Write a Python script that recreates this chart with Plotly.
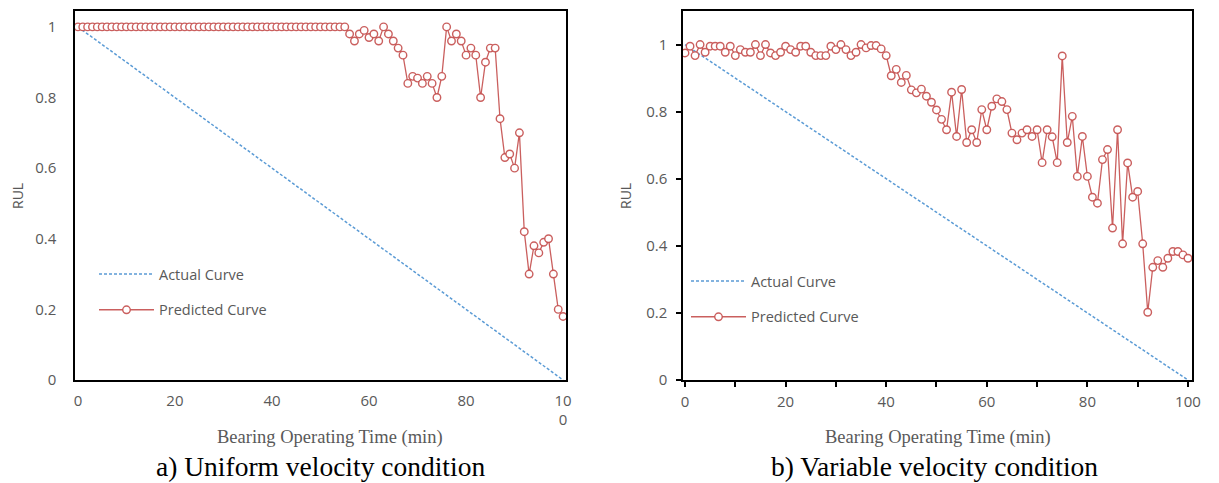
import plotly.graph_objects as go

# ---------------- data ----------------
time_min = list(range(0, 101))
actual_rul = [1 - t / 100 for t in time_min]

uniform_pred = [1.0] * 56 + [
    0.98, 0.96, 0.98, 0.99, 0.97, 0.98, 0.96, 1.0, 0.98, 0.96,
    0.94, 0.92, 0.84, 0.86, 0.855, 0.84, 0.86, 0.84, 0.80, 0.86,
    1.0, 0.96, 0.98, 0.96, 0.92, 0.94, 0.92, 0.80, 0.90, 0.94,
    0.94, 0.74, 0.63, 0.64, 0.60, 0.70, 0.42, 0.30, 0.38, 0.36,
    0.39, 0.40, 0.30, 0.20, 0.18,
]

variable_pred = [
    0.975, 0.995, 0.967, 1.0, 0.977, 0.995, 0.995, 0.995, 0.977, 0.995,
    0.967, 0.985, 0.977, 0.977, 1.0, 0.967, 1.0, 0.975, 0.967, 0.977,
    0.995, 0.985, 0.977, 0.995, 0.995, 0.977, 0.967, 0.967, 0.967, 0.995,
    0.985, 1.0, 0.985, 0.967, 0.977, 1.0, 0.99, 0.997, 0.997, 0.987,
    0.967, 0.907, 0.926, 0.887, 0.908, 0.865, 0.856, 0.867, 0.846, 0.828,
    0.805, 0.777, 0.746, 0.858, 0.726, 0.866, 0.708, 0.746, 0.708, 0.806,
    0.746, 0.816, 0.838, 0.830, 0.806, 0.736, 0.716, 0.736, 0.746, 0.726,
    0.746, 0.648, 0.746, 0.725, 0.648, 0.966, 0.708, 0.786, 0.607, 0.726,
    0.607, 0.545, 0.527, 0.657, 0.687, 0.453, 0.746, 0.406, 0.647, 0.545,
    0.562, 0.406, 0.202, 0.336, 0.356, 0.336, 0.363, 0.383, 0.383, 0.373,
    0.363,
]

y_ticks = [0, 0.2, 0.4, 0.6, 0.8, 1]
y_ticktext = ["0", "0.2", "0.4", "0.6", "0.8", "1"]
x_ticks_left = [0, 20, 40, 60, 80, 100]
x_ticktext_left = ["0", "20", "40", "60", "80", "10<br>0"]
x_ticks_right = list(range(0, 101, 10))
x_ticktext_right = ["0", "", "20", "", "40", "", "60", "", "80", "", "100"]

captions = ["a) Uniform velocity condition", "b) Variable velocity condition"]
x_title = "Bearing Operating Time (min)"
y_title = "RUL"
names = ["Actual Curve", "Predicted Curve"]

# ---------------- style ----------------
W, H = 1219, 483
BLUE = "#5B9BD5"
RED = "rgba(196,78,76,0.9)"
GRAY = "#595959"
SANS = "Open Sans"
SERIF = "Liberation Serif"

def px(v):
    return v / W

def py(v):
    return 1 - v / H

fig = go.Figure()

for i, (pred, leg) in enumerate([(uniform_pred, "legend"), (variable_pred, "legend2")]):
    xa = "x" if i == 0 else "x2"
    ya = "y" if i == 0 else "y2"
    fig.add_trace(go.Scatter(
        x=time_min, y=actual_rul, mode="lines", name=names[0],
        line=dict(color=BLUE, width=1.5, dash="3px,2px"),
        xaxis=xa, yaxis=ya, legend=leg, legendgroup=f"a{i}",
    ))
    fig.add_trace(go.Scatter(
        x=time_min, y=pred, mode="lines+markers", name=names[1],
        line=dict(color=RED, width=1.3),
        marker=dict(symbol="circle", size=7.5, color="white",
                    line=dict(color=RED, width=1.4)),
        xaxis=xa, yaxis=ya, legend=leg, legendgroup=f"p{i}",
    ))

axis_common = dict(showline=True, linecolor="black", linewidth=1.5, mirror=True,
                   showgrid=False, zeroline=False, automargin=False,
                   tickfont=dict(family=SANS, size=15, color=GRAY))

fig.update_layout(
    width=W, height=H,
    margin=dict(l=0, r=0, t=0, b=0),
    paper_bgcolor="white", plot_bgcolor="white",
    showlegend=True,
    xaxis=dict(domain=[px(75), px(566)], range=[-0.6, 100.6],
               tickvals=x_ticks_left, ticktext=x_ticktext_left,
               ticks="", ticklabelstandoff=6, **axis_common),
    yaxis=dict(domain=[py(380), py(11)], range=[0, 1.045],
               tickvals=y_ticks, ticktext=y_ticktext,
               ticks="", ticklabelstandoff=14, **axis_common),
    xaxis2=dict(domain=[px(683), px(1192)], range=[-0.4, 100.8],
                tickvals=x_ticks_right, ticktext=x_ticktext_right,
                ticks="outside", ticklen=5, tickwidth=1.5, tickcolor="black",
                ticklabelstandoff=2, anchor="y2", **axis_common),
    yaxis2=dict(domain=[py(380), py(11)], range=[0, 1.1],
                tickvals=y_ticks, ticktext=y_ticktext,
                ticks="outside", ticklen=5, tickwidth=1.5, tickcolor="black",
                ticklabelstandoff=6, anchor="x2", **axis_common),
    legend=dict(x=px(94), y=py(258), xanchor="left", yanchor="top",
                bgcolor="rgba(0,0,0,0)", itemwidth=55, tracegroupgap=14,
                font=dict(family=SANS, size=14.5, color=GRAY)),
    legend2=dict(x=px(686), y=py(265), xanchor="left", yanchor="top",
                 bgcolor="rgba(0,0,0,0)", itemwidth=55, tracegroupgap=14,
                 font=dict(family=SANS, size=14.5, color=GRAY)),
)

annos = []
for tx, cx, cap in zip([330, 938], [320, 934], captions):
    annos.append(dict(text=x_title, x=px(tx), y=py(437), xref="paper", yref="paper",
                      xanchor="center", yanchor="middle",
                      showarrow=False, font=dict(family=SERIF, size=18.5, color=GRAY)))
    annos.append(dict(text=cap, x=px(cx), y=py(466), xref="paper", yref="paper",
                      xanchor="center", yanchor="middle",
                      showarrow=False, font=dict(family=SERIF, size=27.5, color="black")))
for rx in [17, 625]:
    annos.append(dict(text=y_title, x=px(rx), y=py(196), xref="paper", yref="paper",
                      xanchor="center", yanchor="middle",
                      showarrow=False, textangle=-90,
                      font=dict(family=SANS, size=14, color=GRAY)))
fig.update_layout(annotations=annos)

fig.write_html("out.html", config={"displayModeBar": False},
               post_script="document.body.style.margin='0';")
